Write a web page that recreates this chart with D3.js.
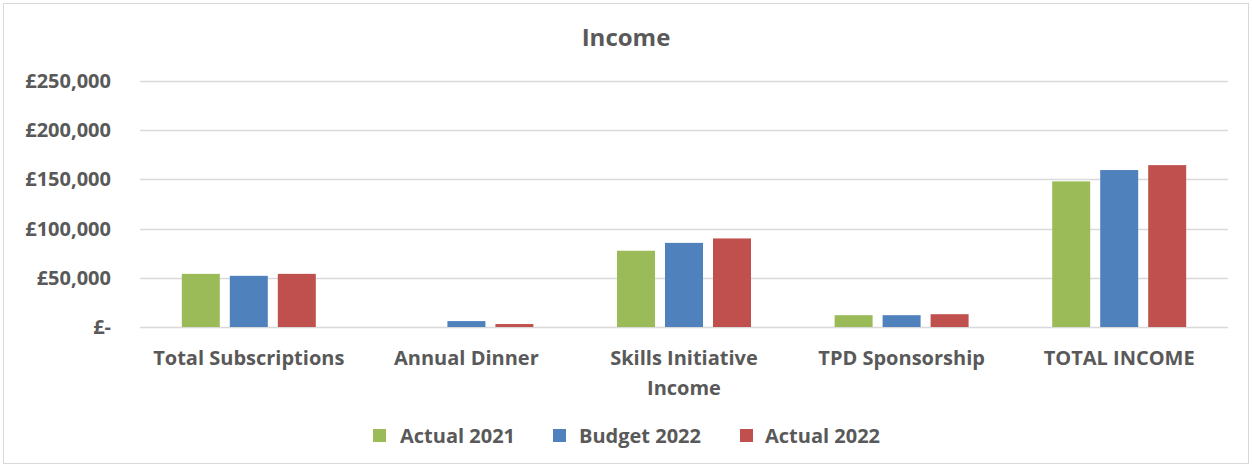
<!DOCTYPE html>
<html>
<head>
<meta charset="utf-8">
<script src="https://d3js.org/d3.v7.min.js"></script>
<style>
  body { margin: 0; background: #fff; }
  text { font-family: "Open Sans", Lato, sans-serif; font-weight: bold; fill: #595959; }
</style>
</head>
<body>
<div id="chart"></div>
<script>
  // data
  var categories = ["Total Subscriptions", "Annual Dinner", "Skills Initiative Income", "TPD Sponsorship", "TOTAL INCOME"];
  var series = ["Actual 2021", "Budget 2022", "Actual 2022"];
  var actual2021 = [54000, 0, 77500, 12000, 148000];
  var budget2022 = [52000, 6000, 85500, 12000, 159500];
  var actual2022 = [54000, 3000, 90000, 13000, 164500];
  var colors = ["#9bbb59", "#4f81bd", "#c0504d"];
  var yTicks = [0, 50000, 100000, 150000, 200000, 250000];

  var width = 1252, height = 467;
  var plotLeft = 140, plotRight = 1228, plotTop = 81, plotBottom = 327;

  var svg = d3.select("#chart").append("svg")
    .attr("width", width)
    .attr("height", height);

  // outer frame
  svg.append("rect")
    .attr("x", 3.5).attr("y", 3.5)
    .attr("width", width - 7).attr("height", height - 7)
    .attr("fill", "#fff")
    .attr("stroke", "#d9d9d9");

  var y = d3.scaleLinear().domain([0, 250000]).range([plotBottom, plotTop]);
  var x0 = d3.scaleBand().domain(categories).range([plotLeft, plotRight]);
  var x1 = d3.scaleBand().domain(series).range([0, 134]).paddingInner(10 / 48);
  var groupOffset = (x0.bandwidth() - 134) / 2;

  // gridlines
  svg.selectAll(".grid")
    .data(yTicks)
    .enter()
    .append("line")
    .attr("x1", plotLeft)
    .attr("x2", plotRight)
    .attr("y1", function(d) { return Math.round(y(d)) + 0.5; })
    .attr("y2", function(d) { return Math.round(y(d)) + 0.5; })
    .attr("stroke", "#d9d9d9")
    .attr("stroke-width", 1.5);

  // y labels
  svg.selectAll(".ylab")
    .data(yTicks)
    .enter()
    .append("text")
    .attr("x", 111)
    .attr("y", function(d) { return y(d); })
    .attr("dy", "0.35em")
    .attr("text-anchor", "end")
    .style("font-size", "20px")
    .text(function(d) { return d === 0 ? "£-" : "£" + d3.format(",")(d); });

  // bars
  var rows = categories.map(function(c, i) {
    return [actual2021[i], budget2022[i], actual2022[i]].map(function(v, j) {
      return { cat: c, s: series[j], v: v, color: colors[j] };
    });
  });

  var groups = svg.selectAll(".group")
    .data(rows)
    .enter()
    .append("g")
    .attr("transform", function(d, i) { return "translate(" + (x0(categories[i]) + groupOffset) + ",0)"; });

  groups.selectAll("rect")
    .data(function(d) { return d; })
    .enter()
    .append("rect")
    .attr("x", function(d) { return x1(d.s); })
    .attr("y", function(d) { return y(d.v); })
    .attr("width", x1.bandwidth())
    .attr("height", function(d) { return y(0) - y(d.v); })
    .attr("fill", function(d) { return d.color; });

  // x labels (wrapped like excel)
  var xLabelLines = {
    "Skills Initiative Income": ["Skills Initiative", "Income"]
  };
  categories.forEach(function(c) {
    var lines = xLabelLines[c] || [c];
    var t = svg.append("text")
      .attr("text-anchor", "middle")
      .style("font-size", "20px");
    lines.forEach(function(l, k) {
      t.append("tspan")
        .attr("x", x0(c) + x0.bandwidth() / 2)
        .attr("y", 365 + k * 30)
        .text(l);
    });
  });

  // title
  svg.append("text")
    .attr("x", 626)
    .attr("y", 46)
    .attr("text-anchor", "middle")
    .style("font-size", "24px")
    .text("Income");

  // legend
  var legendSwatchX = [373, 553, 740];
  var legendTextX = [400, 579, 765];
  var legend = svg.selectAll(".legend")
    .data(series)
    .enter()
    .append("g");

  legend.append("rect")
    .attr("x", function(d, i) { return legendSwatchX[i]; })
    .attr("y", 429)
    .attr("width", 13)
    .attr("height", 13)
    .attr("fill", function(d, i) { return colors[i]; });

  legend.append("text")
    .attr("x", function(d, i) { return legendTextX[i]; })
    .attr("y", 436)
    .attr("dy", "0.35em")
    .style("font-size", "20px")
    .text(function(d) { return d; });
</script>
</body>
</html>
